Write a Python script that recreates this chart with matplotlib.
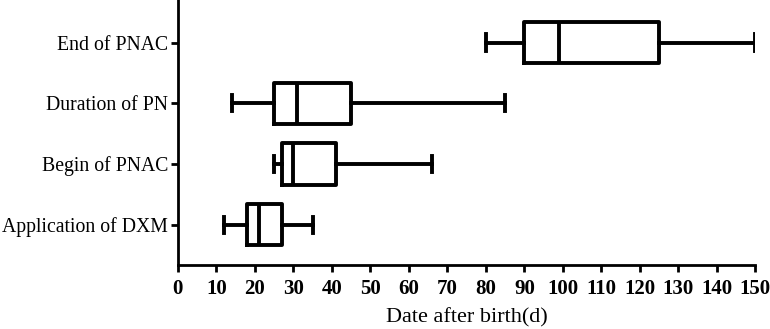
import matplotlib
matplotlib.use("Agg")
import matplotlib.pyplot as plt

categories = ["Application of DXM", "Begin of PNAC", "Duration of PN", "End of PNAC"]
whis_low = [12, 25, 14, 80]
q1 = [18, 27, 25, 90]
medians = [21, 30, 31, 99]
q3 = [27, 41, 45, 125]
whis_high = [35, 66, 85, 150]
x_ticks = list(range(0, 151, 10))

plt.rcParams["font.family"] = ["Liberation Serif", "DejaVu Serif"]

fig = plt.figure(figsize=(7.7, 3.29), dpi=100)
ax = fig.add_axes([0.231, 0.195, 0.75, 0.805])

stats = []
for i, name in enumerate(categories):
    stats.append({"label": name, "whislo": whis_low[i], "q1": q1[i], "med": medians[i],
                  "q3": q3[i], "whishi": whis_high[i], "fliers": []})

lw = 2.8
ax.bxp(stats, positions=range(len(categories)), orientation="horizontal", widths=0.68,
       showfliers=False,
       boxprops=dict(color="black", linewidth=lw),
       medianprops=dict(color="black", linewidth=lw),
       whiskerprops=dict(color="black", linewidth=lw),
       capprops=dict(color="black", linewidth=lw), capwidths=0.27)

ax.set_xlim(0, 150)
ax.set_ylim(-0.66, 3.7)
ax.set_xticks(x_ticks)
ax.set_xticklabels([str(t) for t in x_ticks], fontweight="bold", fontsize=15)
ax.set_yticks(range(len(categories)))
ax.set_yticklabels(categories, fontsize=14.2)
ax.set_xlabel("Date after birth(d)", fontsize=16, labelpad=7)

for side in ["top", "right"]:
    ax.spines[side].set_visible(False)
for side in ["left", "bottom"]:
    ax.spines[side].set_linewidth(2)
ax.tick_params(axis="both", width=2, length=5, color="black")
ax.tick_params(axis="y", pad=2)
ax.tick_params(axis="x", pad=5)

fig.savefig("out.png", dpi=100)
